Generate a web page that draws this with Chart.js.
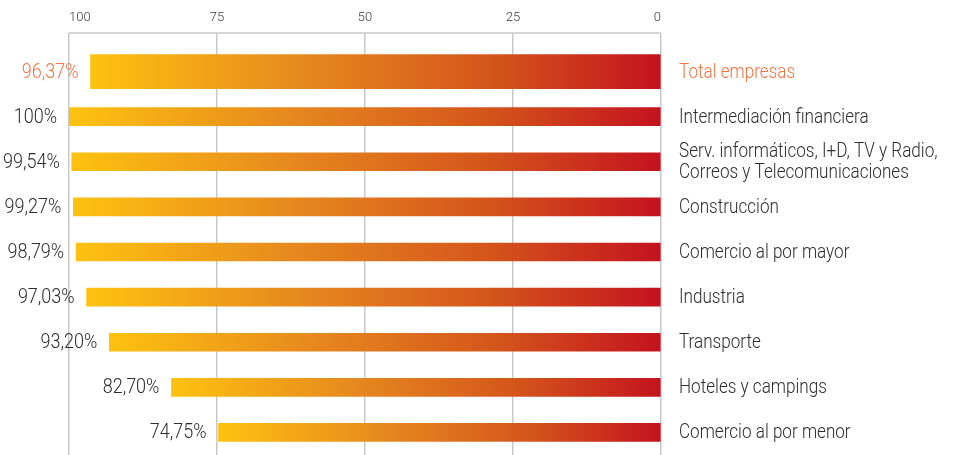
<!DOCTYPE html>
<html><head><meta charset="utf-8">
<script src="https://cdn.jsdelivr.net/npm/chart.js@4.4.1/dist/chart.umd.min.js"></script>
<style>html,body{margin:0;padding:0;background:#fff}#wrap{width:958px;height:455px}</style>
</head><body><div id="wrap"><canvas id="c"></canvas></div>
<script>
const categories = [
  'Total empresas',
  'Intermediación financiera',
  ['Serv. informáticos, I+D, TV y Radio,', 'Correos y Telecomunicaciones'],
  'Construcción',
  'Comercio al por mayor',
  'Industria',
  'Transporte',
  'Hoteles y campings',
  'Comercio al por menor'
];
const values = [96.37, 100, 99.54, 99.27, 98.79, 97.03, 93.20, 82.70, 74.75];
const valueLabels = ['96,37%', '100%', '99,54%', '99,27%', '98,79%', '97,03%', '93,20%', '82,70%', '74,75%'];
const xTicks = [0, 25, 50, 75, 100];

const FONT = "'Roboto', 'Liberation Sans', sans-serif";
const HIGHLIGHT = '#EE7444';
const TEXT = '#2c2c2c';

function barGradient(ctx) {
  const chart = ctx.chart;
  if (!chart.chartArea) return '#E5841F';
  const v = ctx.raw;
  if (v == null) return 'rgba(0,0,0,0)';
  const xs = chart.scales.x;
  const x0 = xs.getPixelForValue(v), x1 = xs.getPixelForValue(0);
  const g = chart.ctx.createLinearGradient(x0, 0, x1, 0);
  g.addColorStop(0, '#FDC210');
  g.addColorStop(0.4, '#E5841F');
  g.addColorStop(0.7, '#D4561B');
  g.addColorStop(1, '#C4121F');
  return g;
}

function condensedText(c, text, x, y, align, squeeze) {
  c.save();
  c.translate(x, y);
  c.scale(squeeze, 1);
  c.textAlign = align;
  c.fillText(text, 0, 0);
  c.restore();
}

const topLine = {
  id: 'topLine',
  beforeDatasetsDraw(chart) {
    const xs = chart.scales.x;
    const y = xs.bottom - xs.options.grid.tickLength;
    const c = chart.ctx;
    c.save();
    c.strokeStyle = '#c8c8c8';
    c.lineWidth = 1.5;
    c.beginPath();
    c.moveTo(xs.getPixelForValue(100), y);
    c.lineTo(xs.getPixelForValue(0), y);
    c.stroke();
    c.restore();
  }
};

const textPlugin = {
  id: 'texts',
  afterDatasetsDraw(chart) {
    const c = chart.ctx;
    const ys = chart.scales.y;
    c.save();
    c.font = '300 20px ' + FONT;
    c.textBaseline = 'middle';
    chart.data.datasets.forEach((ds, di) => {
      const meta = chart.getDatasetMeta(di);
      meta.data.forEach((bar, i) => {
        if (ds.data[i] == null) return;
        c.fillStyle = i === 0 ? HIGHLIGHT : TEXT;
        condensedText(c, valueLabels[i], bar.x - 12, bar.y + 1, 'right', 0.9);
      });
    });
    const x = chart.chartArea.right + 18;
    categories.forEach((lab, i) => {
      const y = ys.getPixelForValue(i);
      c.fillStyle = i === 0 ? HIGHLIGHT : TEXT;
      const lines = Array.isArray(lab) ? lab : [lab];
      const lh = 21;
      lines.forEach((ln, k) => {
        const yy = y + 1 + (k - (lines.length - 1) / 2) * lh;
        condensedText(c, ln, x, yy, 'left', 0.855);
      });
    });
    c.restore();
  }
};

new Chart(document.getElementById('c'), {
  type: 'bar',
  data: {
    labels: categories,
    datasets: [
      { data: values.map((v, i) => i === 0 ? v : null), barThickness: 34, backgroundColor: barGradient, borderWidth: 0 },
      { data: values.map((v, i) => i === 0 ? null : v), barThickness: 18, backgroundColor: barGradient, borderWidth: 0 }
    ]
  },
  options: {
    indexAxis: 'y',
    responsive: true,
    maintainAspectRatio: false,
    animation: false,
    layout: { padding: { left: 69, right: 0, top: 0, bottom: 0 } },
    plugins: { legend: { display: false }, tooltip: { enabled: false } },
    datasets: { bar: { grouped: false } },
    scales: {
      x: {
        position: 'top',
        reverse: true,
        min: 0, max: 100,
        afterBuildTicks(s) { s.ticks = xTicks.map(v => ({ value: v })); },
        afterFit(s) { s.height = 49; s.paddingLeft = 0; s.paddingRight = 0; },
        grid: { color: '#c8c8c8', lineWidth: 1.5, drawTicks: true, tickLength: 16, tickColor: '#c8c8c8' },
        border: { display: false },
        ticks: { align: 'inner', padding: 7, color: '#3a3a3a', font: { family: FONT, size: 13, weight: '300' } }
      },
      y: {
        position: 'right',
        afterFit(s) { s.width = 297; s.paddingTop = 0; s.paddingBottom = 0; },
        grid: { display: false, drawTicks: false },
        border: { display: false },
        ticks: { display: false, autoSkip: false }
      }
    }
  },
  plugins: [topLine, textPlugin]
});
</script>
</body></html>
